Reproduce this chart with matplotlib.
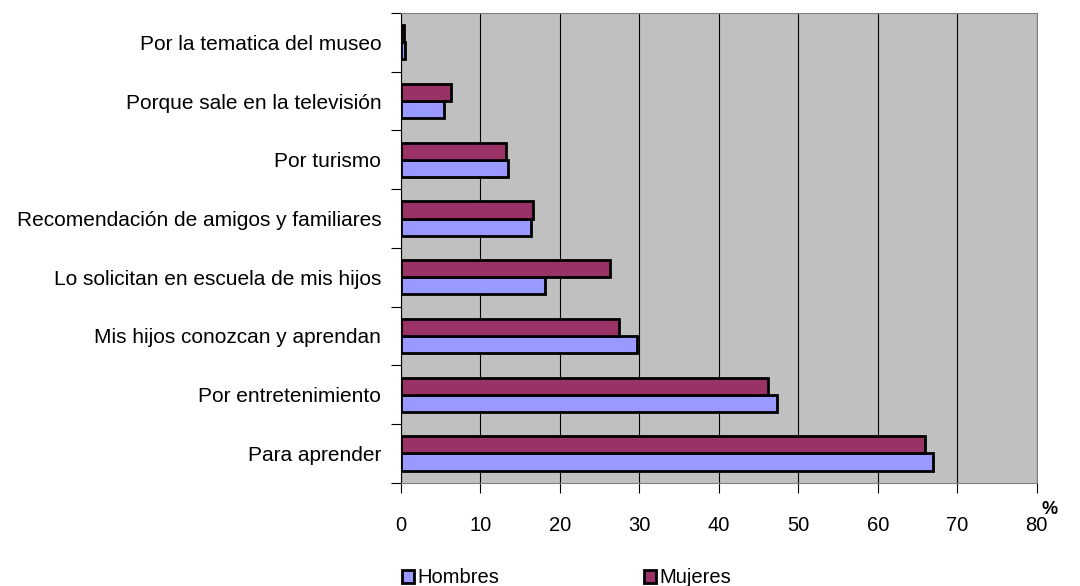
import matplotlib.pyplot as plt
import numpy as np

plt.rcParams['font.family'] = ['Liberation Sans', 'DejaVu Sans']

categorias = ['Para aprender', 'Por entretenimiento', 'Mis hijos conozcan y aprendan',
              'Lo solicitan en escuela de mis hijos', 'Recomendación de amigos y familiares',
              'Por turismo', 'Porque sale en la televisión', 'Por la tematica del museo']
hombres = [67.0, 47.3, 29.7, 18.1, 16.4, 13.5, 5.4, 0.5]
mujeres = [66.0, 46.2, 27.4, 26.3, 16.6, 13.2, 6.3, 0.4]

fig = plt.figure(figsize=(10.8, 5.86), dpi=100)
ax = fig.add_axes([0.371, 0.176, 0.589, 0.802])
ax.set_facecolor('#C0C0C0')

y = np.arange(len(categorias))
h = 0.29
ax.barh(y - h / 2, hombres, height=h, color='#9999FF', edgecolor='black', linewidth=2, label='Hombres', zorder=3)
ax.barh(y + h / 2, mujeres, height=h, color='#993366', edgecolor='black', linewidth=2, label='Mujeres', zorder=3)

ax.set_xlim(0, 80)
ax.set_ylim(-0.5, len(categorias) - 0.5)
ax.set_xticks(range(0, 81, 10))
ax.set_yticks(np.arange(-0.5, len(categorias), 1), minor=False)
ax.set_yticklabels([])
ax.set_yticks(y, minor=True)
ax.set_yticklabels(categorias, minor=True, fontsize=15)
ax.tick_params(axis='y', which='minor', length=0, pad=14)
ax.tick_params(axis='y', which='major', length=7, direction='out')
ax.tick_params(axis='x', length=7, direction='out', labelsize=14.5, pad=17)
ax.grid(axis='x', color='black', linewidth=0.8, zorder=1)

for s in ['top', 'right', 'bottom']:
    ax.spines[s].set_color('#808080')
ax.spines['left'].set_color('black')

fig.text(1050 / 1080, 1 - 510 / 586, '%', fontsize=13, fontweight='bold', ha='center', va='center')

ax.legend(loc='center left', bbox_to_anchor=(0.002, -0.202), ncol=2, frameon=False,
          fontsize=14.5, handlelength=0.6, handleheight=0.6, handletextpad=0.15,
          columnspacing=7.2, borderaxespad=0, borderpad=0)

fig.savefig('out.png', dpi=100)
